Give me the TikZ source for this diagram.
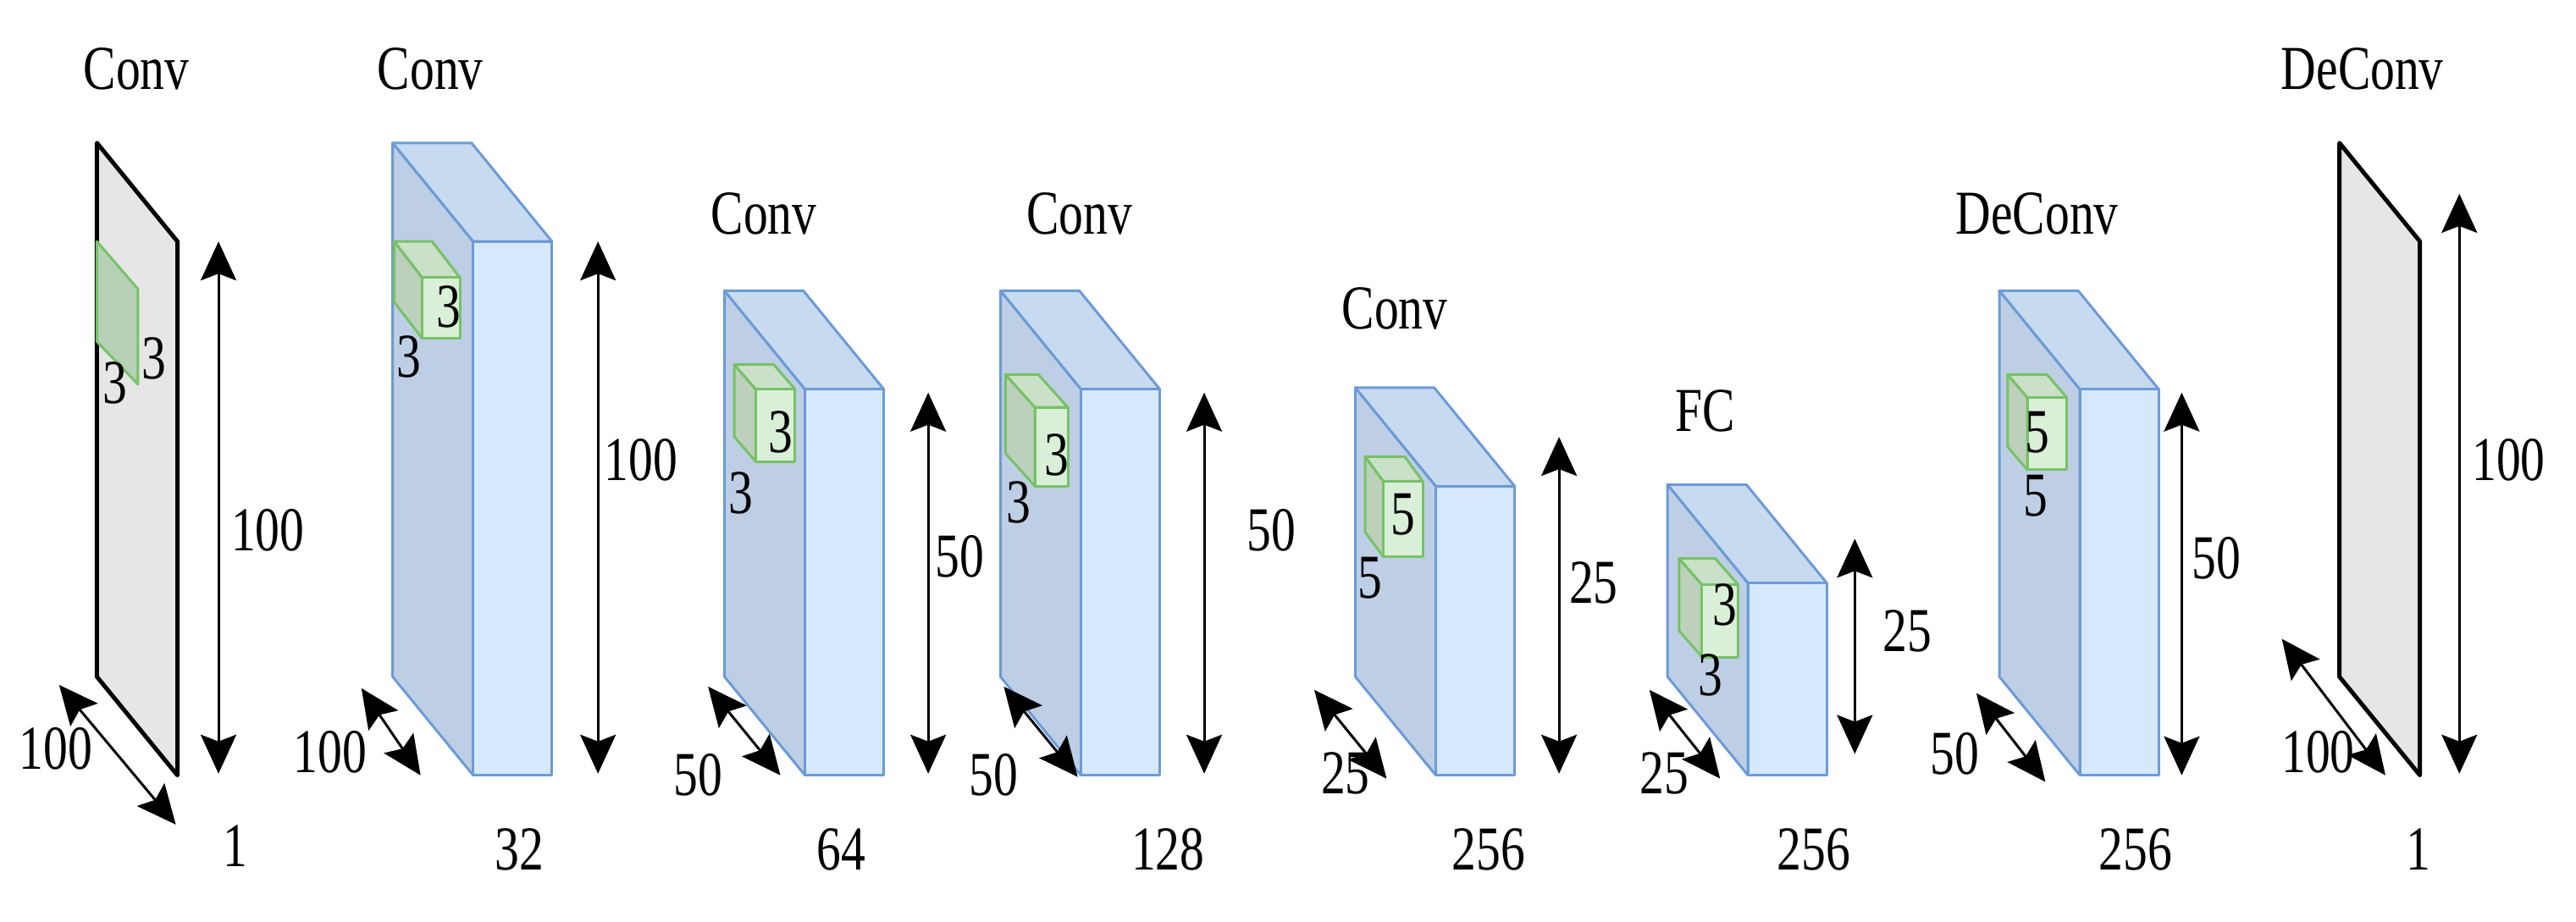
\documentclass[tikz,border=0pt]{standalone}
\usepackage{fontspec}
\setmainfont{Liberation Serif}[FakeStretch=0.78]
\usetikzlibrary{arrows.meta}
\definecolor{blockfront}{HTML}{D6E8FB}
\definecolor{blocktop}{HTML}{C8DAF0}
\definecolor{blockside}{HTML}{BECFE5}
\definecolor{blockline}{HTML}{6C9BD6}
\definecolor{cubefront}{HTML}{DAEFD7}
\definecolor{cubetop}{HTML}{CBE0C8}
\definecolor{cubeside}{HTML}{BDD0BC}
\definecolor{cubeline}{HTML}{76C267}
\definecolor{planefill}{HTML}{E6E6E6}
\definecolor{patchfill}{HTML}{B6D1B5}
\begin{document}
\begin{tikzpicture}[x=0.194mm,y=-0.194mm,line cap=round,line join=round,
  lab/.style={inner sep=0pt,font=\fontsize{21}{24}\selectfont},
  dim/.style={line width=0.3mm,{Stealth[length=4.6mm,width=4.2mm,inset=0.8mm]}-{Stealth[length=4.6mm,width=4.2mm,inset=0.8mm]}},
  blk/.style={draw=blockline,line width=0.3mm},
  cub/.style={draw=cubeline,line width=0.3mm}]
  \useasboundingbox (0,0) rectangle (1568,561);
  % input and output planes
  \foreach \nm/\px in {pin/59,pout/1424} {
    \coordinate (\nm) at (\px,87);
    \filldraw[fill=planefill,line width=0.5mm] (\nm) -- (\px+49,147) -- (\px+49,472) -- (\px,412) -- cycle;
  }
  \filldraw[fill=patchfill,draw=cubeline,line width=0.3mm] (59,147) -- (84,176) -- (84,234) -- (59,208) -- cycle;
  % feature blocks
  \foreach \nm/\bx/\by in {b1/239/87,b2/441/177,b3/609/177,b4/825/236,b5/1015/295,b6/1217/177} {
    \coordinate (\nm) at (\bx,\by);
    \filldraw[blk,fill=blockside] (\nm) -- (\bx+49,\by+60) -- (\bx+49,472) -- (\bx,412) -- cycle;
    \filldraw[blk,fill=blocktop] (\nm) -- (\bx+48,\by) -- (\bx+97,\by+60) -- (\bx+49,\by+60) -- cycle;
    \filldraw[blk,fill=blockfront] (\bx+49,\by+60) rectangle (\bx+97,472);
  }
  % kernels
  \foreach \cx/\cy/\dx/\dy/\w/\h in {240/147/17/22/23/37,447/222/13/15/24/44,612/228/18/20/20/48,
      831/278/11/15/24/46,1022/340/14/16/22/44,1222/228/12/14/24/44} {
    \filldraw[cub,fill=cubeside] (\cx,\cy) -- ++(\dx,\dy) -- ++(0,\h) -- ++(-\dx,-\dy) -- cycle;
    \filldraw[cub,fill=cubetop] (\cx,\cy) -- ++(\w,0) -- ++(\dx,\dy) -- ++(-\w,0) -- cycle;
    \filldraw[cub,fill=cubefront] (\cx+\dx,\cy+\dy) rectangle ++(\w,\h);
  }
  % size arrows
  \foreach \nm/\ax/\ay/\ex/\ey in {pin-v/133/147/133/471,pin-d/36/417/107/502,
      b1-v/364/147/364/471,b1-d/220/419/256/472,
      b2-v/565/239/565/471,b2-d/431/418/475/472,
      b3-v/733/239/733/471,b3-d/611/418/656/473,
      b4-v/949/266/949/471,b4-d/800/420/844/474,
      b5-v/1129/328/1129/459,b5-d/1004/420/1047/474,
      b6-v/1328/239/1328/472,b6-d/1203/422/1245/476,
      pout-v/1497/118/1497/471,pout-d/1389/389/1452/472} {
    \coordinate (\nm-s) at (\ax,\ay);
    \coordinate (\nm-e) at (\ex,\ey);
    \draw[dim] (\nm-s) -- (\nm-e);
  }
  % labels
  \foreach \nm/\lx/\ly/\txt in {pin-t/83/42/Conv,pin-k/70/233/3,pin-kk/94/218/3,pin-h/163/323/100,pin-w/34/456/100,pin-c/143/515/1,
      b1-t/262/42/Conv,b1-k/273/187/3,b1-kk/249/217/3,b1-h/390/280/100,b1-w/201/458/100,b1-c/316/517/32,
      b2-t/465/130/Conv,b2-k/475/263/3,b2-kk/451/300/3,b2-h/584/339/50,b2-w/425/472/50,b2-c/512/517/64,
      b3-t/657/130/Conv,b3-k/643/277/3,b3-kk/620/306/3,b3-h/774/323/50,b3-w/605/472/50,b3-c/711/517/128,
      b4-t/849/188/Conv,b4-k/854/313/5,b4-kk/834/352/5,b4-h/970/355/25,b4-w/819/471/25,b4-c/906/517/256,
      b5-t/1038/250/FC,b5-k/1050/368/3,b5-kk/1041/411/3,b5-h/1161/384/25,b5-w/1013/471/25,b5-c/1104/517/256,
      b6-t/1240/130/DeConv,b6-k/1240/263/5,b6-kk/1239/302/5,b6-h/1349/340/50,b6-w/1190/459/50,b6-c/1300/517/256,
      pout-t/1438/42/DeConv,pout-h/1527/280/100,pout-w/1411/458/100,pout-c/1472/517/1}
    \node[lab] (\nm) at (\lx,\ly) {\txt};
\end{tikzpicture}
\end{document}
